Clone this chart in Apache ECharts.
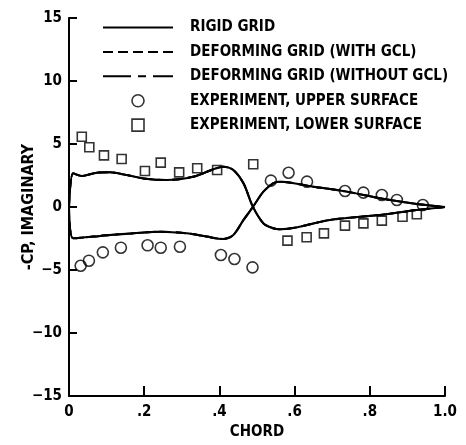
<!DOCTYPE html>
<html><head><meta charset="utf-8">
<script src="https://cdn.jsdelivr.net/npm/echarts@6/dist/echarts.min.js"></script>
<style>html,body{margin:0;padding:0;background:#fff}#c{width:466px;height:445px}</style>
</head><body><div id="c"></div>
<script>
// Curve A: positive near leading edge, crosses near x=0.49
const curveAx = [0, 0.011, 0.034, 0.074, 0.109, 0.153, 0.198, 0.26, 0.33, 0.384, 0.41, 0.437, 0.464, 0.489, 0.517, 0.543, 0.561, 0.6, 0.694, 0.827, 0.925, 1.0];
const curveAy = [0, 2.67, 2.46, 2.72, 2.75, 2.54, 2.27, 2.14, 2.4, 3.0, 3.2, 2.94, 1.88, 0.03, -1.3, -1.69, -1.77, -1.65, -1.03, -0.63, -0.24, 0];
// Curve B: negative near leading edge
const curveBx = [0, 0.011, 0.065, 0.109, 0.171, 0.242, 0.313, 0.366, 0.41, 0.437, 0.464, 0.489, 0.517, 0.543, 0.561, 0.65, 0.739, 0.827, 0.925, 1.0];
const curveBy = [0, -2.49, -2.35, -2.22, -2.09, -1.96, -2.09, -2.35, -2.54, -2.22, -1.03, 0, 1.22, 1.88, 2.01, 1.61, 1.22, 0.69, 0.24, 0];
// Experiment, upper surface (circles)
const upperX = [0.031, 0.053, 0.090, 0.138, 0.209, 0.244, 0.295, 0.404, 0.44, 0.488, 0.537, 0.584, 0.633, 0.734, 0.783, 0.832, 0.872, 0.941];
const upperY = [-4.66, -4.26, -3.6, -3.23, -3.04, -3.23, -3.15, -3.81, -4.13, -4.79, 2.09, 2.72, 2.01, 1.27, 1.14, 0.95, 0.56, 0.16];
// Experiment, lower surface (squares)
const lowerX = [0.034, 0.054, 0.093, 0.140, 0.202, 0.244, 0.293, 0.341, 0.394, 0.490, 0.581, 0.632, 0.678, 0.734, 0.783, 0.832, 0.887, 0.925];
const lowerY = [5.58, 4.74, 4.1, 3.81, 2.86, 3.52, 2.75, 3.07, 2.94, 3.39, -2.67, -2.4, -2.09, -1.48, -1.3, -1.08, -0.77, -0.58];

const seriesNames = ['RIGID GRID', 'DEFORMING GRID (WITH GCL)', 'DEFORMING GRID (WITHOUT GCL)', 'EXPERIMENT, UPPER SURFACE', 'EXPERIMENT, LOWER SURFACE'];
const xTicks = ['0', '.2', '.4', '.6', '.8', '1.0'];

const FONT = '"DejaVu Sans Condensed", "Liberation Sans Narrow", "DejaVu Sans", sans-serif';
const zip = (xs, ys) => xs.map((x, i) => [x, ys[i]]);
const dashStyles = ['solid', [10, 5], [28, 7, 8, 7]];

const series = [];
dashStyles.forEach((d, k) => {
  [zip(curveAx, curveAy), zip(curveBx, curveBy)].forEach(data => {
    series.push({
      name: seriesNames[k], type: 'line', data, smooth: 0.3, symbol: 'none', symbolSize: 0,
      lineStyle: { color: '#000', width: 2, type: d }, itemStyle: { color: '#000' },
      z: 2, silent: true
    });
  });
});
series.push({
  name: seriesNames[3], type: 'scatter', data: zip(upperX, upperY), symbol: 'circle', symbolSize: 11,
  itemStyle: { color: 'rgba(255,255,255,0)', borderColor: '#000', borderWidth: 1.6 }, z: 3
});
series.push({
  name: seriesNames[4], type: 'scatter', data: zip(lowerX, lowerY), symbol: 'rect', symbolSize: 9,
  itemStyle: { color: 'rgba(255,255,255,0)', borderColor: '#000', borderWidth: 1.6 }, z: 3
});

const hiddenSym = { opacity: 0, color: 'rgba(0,0,0,0)', borderWidth: 0 };
const chart = echarts.init(document.getElementById('c'));
chart.setOption({
  animation: false,
  backgroundColor: '#fff',
  grid: { left: 69, right: 21, top: 18, bottom: 49 },
  legend: {
    orient: 'vertical', left: 97, top: 15, itemWidth: 70, itemHeight: 12, itemGap: 9.4,
    selectedMode: false,
    textStyle: { fontFamily: FONT, fontSize: 15, fontWeight: 'bold', color: '#000', padding: [0, 0, 0, 12] },
    data: [
      { name: seriesNames[0], itemStyle: hiddenSym },
      { name: seriesNames[1], itemStyle: hiddenSym },
      { name: seriesNames[2], itemStyle: hiddenSym },
      { name: seriesNames[3], icon: 'circle', itemStyle: { color: '#fff', borderColor: '#000', borderWidth: 1.6 } },
      { name: seriesNames[4], icon: 'path://M0,0H10V10H0Z', itemStyle: { color: '#fff', borderColor: '#000', borderWidth: 1.6 } }
    ]
  },
  xAxis: {
    type: 'value', min: 0, max: 1, interval: 0.2,
    name: 'CHORD', nameLocation: 'middle', nameGap: 29,
    nameTextStyle: { fontFamily: FONT, fontSize: 15, fontWeight: 'bold', color: '#000' },
    axisLine: { show: true, onZero: false, lineStyle: { color: '#000', width: 2 } },
    axisTick: { show: true, inside: true, length: 10, lineStyle: { color: '#000', width: 2 } },
    splitLine: { show: false },
    axisLabel: { fontFamily: FONT, fontSize: 15, fontWeight: 'bold', color: '#000', margin: 9,
      formatter: v => xTicks[Math.round(v / 0.2)] }
  },
  yAxis: {
    type: 'value', min: -15, max: 15, interval: 5,
    name: '-CP, IMAGINARY', nameLocation: 'middle', nameGap: 32, nameMoveOverlap: false,
    nameTextStyle: { fontFamily: FONT, fontSize: 16, fontWeight: 'bold', color: '#000' },
    axisLine: { show: true, onZero: false, lineStyle: { color: '#000', width: 2 } },
    axisTick: { show: true, inside: true, length: 8, lineStyle: { color: '#000', width: 2 } },
    splitLine: { show: false },
    axisLabel: { fontFamily: FONT, fontSize: 15, fontWeight: 'bold', color: '#000', margin: 7,
      formatter: v => (v < 0 ? '\u2212' + Math.abs(v) : String(v)) }
  },
  series
});
</script></body></html>
